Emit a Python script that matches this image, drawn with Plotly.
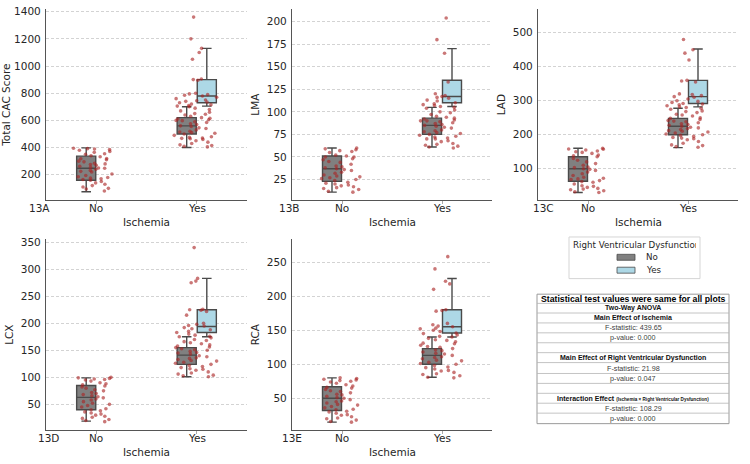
import plotly.graph_objects as go

W, H = 750, 464

categories = ["No", "Yes"]
x_title = "Ischemia"
panel_labels = ["13A", "13B", "13C", "13D", "13E"]
y_titles = ["Total CAC Score", "LMA", "LAD", "LCX", "RCA"]
y_ranges = [[12, 1420], [2, 214], [7, 570], [2, 356], [3, 284]]
y_ticks = [
    [200, 400, 600, 800, 1000, 1200, 1400],
    [25, 50, 75, 100, 125, 150, 175, 200],
    [100, 200, 300, 400, 500],
    [50, 100, 150, 200, 250, 300, 350],
    [50, 100, 150, 200, 250],
]

# box summary stats: [lowerfence, q1, median, q3, upperfence]
box_no_rv_no = [
    [75, 160, 248, 337, 398],
    [11, 23, 37, 51, 60],
    [30, 63, 100, 135, 160],
    [19, 40, 63, 85, 99],
    [15, 32, 50, 67, 80],
]
box_yes_rv_no = [
    [400, 500, 560, 620, 700],
    [61, 75, 85, 93, 105],
    [162, 200, 225, 248, 278],
    [101, 124, 141, 155, 175],
    [81, 100, 113, 123, 140],
]
box_yes_rv_yes = [
    [705, 730, 780, 900, 1130],
    [106, 110, 117, 135, 170],
    [282, 292, 312, 360, 452],
    [175, 183, 194, 225, 283],
    [140, 146, 155, 180, 226],
]

# jittered strip points
pts_no = [
    [395, 392, 390, 385, 380, 372, 365, 355, 350, 340, 332, 320, 318, 310, 300, 295, 285, 280,
     275, 270, 262, 255, 250, 248, 240, 232, 225, 220, 205, 195, 185, 180, 175, 170, 165, 160,
     150, 140, 130, 120, 110, 100, 95, 80],
    [60, 59, 58, 57, 56, 55, 52, 51, 50, 50, 48, 47, 45, 44, 42, 40, 39, 38, 37, 36, 35, 33,
     32, 30, 29, 28, 27, 26, 25, 24, 22, 21, 20, 19, 18, 17, 16, 15, 14, 12, 11],
    [160, 158, 157, 155, 152, 150, 148, 145, 140, 138, 135, 130, 125, 120, 115, 110, 105, 103,
     100, 98, 95, 90, 85, 80, 75, 72, 70, 68, 65, 62, 60, 55, 50, 48, 45, 42, 40, 38, 35, 32, 30],
    [100, 99, 98, 97, 96, 95, 93, 90, 88, 86, 84, 82, 80, 77, 75, 72, 70, 68, 66, 64, 62, 60,
     58, 55, 52, 50, 48, 45, 42, 40, 38, 36, 34, 32, 30, 28, 26, 24, 22, 20, 18],
    [80, 79, 78, 77, 76, 75, 74, 72, 70, 68, 66, 65, 63, 61, 60, 58, 56, 55, 53, 51, 50, 48,
     46, 45, 43, 41, 40, 38, 36, 34, 33, 31, 30, 28, 26, 25, 23, 21, 20, 18, 16, 15],
]
pts_yes = [
    [1360, 1200, 1130, 1100, 1050, 905, 900, 895, 800, 795, 790, 785, 780, 770, 760, 750, 745,
     740, 735, 730, 720, 715, 710, 705, 700, 690, 680, 670, 660, 650, 645, 640, 630, 620, 615,
     610, 605, 600, 598, 590, 585, 575, 570, 560, 555, 545, 540, 530, 520, 515, 510, 505, 500,
     490, 480, 475, 470, 468, 465, 460, 450, 440, 430, 420, 415, 410, 405],
    [204, 180, 165, 133, 120, 118, 117, 116, 115, 113, 112, 110, 109, 108, 107, 106, 105, 104,
     102, 100, 99, 97, 95, 94, 93, 92, 91, 90, 90, 89, 88, 87, 86, 85, 84, 83, 82, 80, 79, 78,
     77, 76, 75, 74, 73, 72, 71, 70, 70, 68, 67, 65, 64, 63, 62, 61, 60],
    [480, 450, 440, 420, 360, 358, 355, 320, 318, 315, 312, 310, 305, 300, 298, 295, 292, 290,
     288, 285, 282, 280, 278, 275, 270, 268, 265, 260, 258, 255, 250, 248, 245, 242, 240, 238,
     235, 232, 230, 228, 225, 222, 220, 218, 215, 212, 210, 208, 205, 202, 200, 198, 195, 192,
     190, 188, 185, 180, 175, 170, 168, 165, 163],
    [340, 283, 278, 275, 226, 225, 224, 222, 215, 200, 198, 196, 195, 192, 190, 188, 185, 183,
     180, 178, 176, 175, 173, 170, 168, 166, 164, 162, 160, 158, 156, 155, 153, 151, 150, 148,
     146, 145, 143, 140, 138, 136, 135, 133, 131, 130, 128, 126, 124, 122, 120, 118, 116, 115,
     113, 110, 108, 106, 104, 103, 101],
    [258, 240, 222, 218, 210, 180, 179, 178, 160, 158, 156, 155, 153, 152, 150, 148, 146, 145,
     143, 141, 140, 138, 136, 135, 133, 131, 130, 128, 126, 125, 123, 121, 120, 118, 116, 115,
     113, 111, 110, 108, 106, 105, 103, 101, 100, 98, 96, 95, 93, 91, 90, 88, 86, 85, 83, 81, 80],
]

legend_title = "Right Ventricular Dysfunction"
legend_items = ["No", "Yes"]

table_rows = [
    ("Statistical test values were same for all plots", "head"),
    ("Two-Way ANOVA", "bold"),
    ("Main Effect of Ischemia", "bold"),
    ("F-statistic: 439.65", "norm"),
    ("p-value: 0.000", "norm"),
    ("", "norm"),
    ("Main Effect of Right Ventricular Dysfunction", "bold"),
    ("F-statistic: 21.98", "norm"),
    ("p-value: 0.047", "norm"),
    ("", "norm"),
    ("Interaction Effect <span style='font-size:4.6px'>(Ischemia × Right Ventricular Dysfunction)</span>", "bold"),
    ("F-statistic: 108.29", "norm"),
    ("p-value: 0.000", "norm"),
]

# ---------------- styling ----------------
GRAY = "#808080"
BLUE = "#ADD8E6"
EDGE = "#4a4a4a"
PT = "rgba(170,36,36,0.62)"
TXT = "#262626"
FONT = "DejaVu Sans"
FS = 10.5

# panel pixel boxes: (left, right, top, bottom)
boxes_px = [
    (46, 247, 5, 198),
    (292, 492, 5, 198),
    (538, 738, 5, 198),
    (46, 247, 237, 430),
    (292, 492, 237, 430),
]
label_x_px = [39, 289, 543, 49, 292]

fig = go.Figure()
layout = dict(
    width=W, height=H, margin=dict(l=0, r=0, t=0, b=0),
    paper_bgcolor="white", plot_bgcolor="white", showlegend=False,
    font=dict(family=FONT, size=FS, color=TXT), boxmode="overlay",
)
annotations = []
shapes = []

for i in range(5):
    sfx = "" if i == 0 else str(i + 1)
    xa, ya = "x" + sfx, "y" + sfx
    l, r, t, b = boxes_px[i]
    layout["xaxis" + sfx] = dict(
        domain=[l / W, r / W], anchor=ya, range=[-0.5, 1.5],
        tickvals=[0, 1], showticklabels=False, showgrid=False, zeroline=False,
        showline=True, linecolor="#555555", linewidth=1.2,
        ticks="outside", ticklen=3, tickcolor="#aaaaaa",
    )
    layout["yaxis" + sfx] = dict(
        domain=[1 - b / H, 1 - t / H], anchor=xa, range=y_ranges[i],
        tickvals=y_ticks[i], showgrid=True, gridcolor="#d3d3d3", griddash="3px,2px",
        gridwidth=0.8, zeroline=False, showline=True, linecolor="#555555",
        linewidth=1.2, ticks="", ticklabelstandoff=2,
        tickfont=dict(size=FS, color=TXT),
        title=dict(text=y_titles[i], font=dict(size=FS, color=TXT), standoff=5),
    )
    # x tick labels and title as annotations (positioned like the reference)
    for k, c in enumerate(categories):
        annotations.append(dict(
            x=k, y=1 - (b + 8) / H, xref=xa, yref="paper", text=c, showarrow=False,
            xanchor="center", yanchor="middle", font=dict(size=FS, color=TXT, family=FONT),
        ))
    annotations.append(dict(
        x=0.5, y=1 - (b + 21.5) / H, xref=xa, yref="paper", text=x_title, showarrow=False,
        xanchor="center", yanchor="middle", font=dict(size=FS, color=TXT, family=FONT),
    ))
    annotations.append(dict(
        x=label_x_px[i] / W, y=1 - (b + 8) / H, xref="paper", yref="paper",
        text=panel_labels[i], showarrow=False, xanchor="center", yanchor="middle",
        font=dict(size=FS, color=TXT, family=FONT),
    ))
    # boxes
    for cat_idx, pos, stats, col in [
        (0, -0.1, box_no_rv_no[i], GRAY),
        (1, -0.1, box_yes_rv_no[i], GRAY),
        (1, 0.1, box_yes_rv_yes[i], BLUE),
    ]:
        lo, q1, med, q3, hi = stats
        fig.add_trace(go.Box(
            x=[cat_idx + pos], lowerfence=[lo], q1=[q1], median=[med], q3=[q3],
            upperfence=[hi], width=0.19, fillcolor=col,
            line=dict(color=EDGE, width=1.4), whiskerwidth=0.5,
            boxpoints=False, xaxis=xa, yaxis=ya, hoverinfo="skip",
        ))
    # strip points
    for cat_idx, vals in [(0, pts_no[i]), (1, pts_yes[i])]:
        fig.add_trace(go.Box(
            y=vals, x0=cat_idx, boxpoints="all", jitter=1, pointpos=0, width=0.46,
            fillcolor="rgba(0,0,0,0)", line=dict(width=0, color="rgba(0,0,0,0)"),
            marker=dict(color=PT, size=3.6), xaxis=xa, yaxis=ya, hoverinfo="skip",
        ))

# ---------------- legend (manual) ----------------
shapes.append(dict(type="rect", xref="paper", yref="paper",
                   x0=569 / W, x1=700 / W, y0=1 - 277 / H, y1=1 - 235 / H,
                   line=dict(color="#d5d5d5", width=1), fillcolor="white"))
annotations.append(dict(
    x=570.5 / W, y=1 - 243.5 / H, xref="paper", yref="paper", text=legend_title,
    showarrow=False, xanchor="left", yanchor="middle", align="left", width=123,
    font=dict(size=8.7, color=TXT, family=FONT),
))
for k, (name, col) in enumerate(zip(legend_items, [GRAY, BLUE])):
    yc = 255.5 + 13 * k
    shapes.append(dict(type="rect", xref="paper", yref="paper",
                       x0=617 / W, x1=635 / W, y0=1 - (yc + 3) / H, y1=1 - (yc - 3) / H,
                       line=dict(color=EDGE, width=0.8), fillcolor=col))
    annotations.append(dict(
        x=644 / W, y=1 - yc / H, xref="paper", yref="paper", text=name,
        showarrow=False, xanchor="left", yanchor="middle",
        font=dict(size=8.7, color=TXT, family=FONT),
    ))

# ---------------- table (manual) ----------------
row_edges = [292.7, 302, 311.7, 321.7, 331.7, 341.7, 351.7, 361.7, 372.7, 382.7,
             392.7, 402.7, 412.7, 423.3]
tl, tr = 537, 729
shapes.append(dict(type="rect", xref="paper", yref="paper",
                   x0=tl / W, x1=tr / W, y0=1 - row_edges[-1] / H, y1=1 - row_edges[0] / H,
                   line=dict(color="#9a9a9a", width=1), fillcolor="white"))
for e in row_edges[1:-1]:
    shapes.append(dict(type="line", xref="paper", yref="paper",
                       x0=tl / W, x1=tr / W, y0=1 - e / H, y1=1 - e / H,
                       line=dict(color="#b5b5b5", width=0.8)))
TFONT = "Liberation Sans, Arial, sans-serif"
for j, (txt, kind) in enumerate(table_rows):
    if not txt:
        continue
    yc = (row_edges[j] + row_edges[j + 1]) / 2
    if kind == "head":
        f = dict(size=8.7, color="#000000", family=TFONT)
        txt = "<b>" + txt + "</b>"
    elif kind == "bold":
        f = dict(size=7.0, color="#111111", family=TFONT)
        txt = "<b>" + txt + "</b>"
    else:
        f = dict(size=7.2, color="#404040", family=TFONT)
    annotations.append(dict(
        x=(tl + tr) / 2 / W, y=1 - yc / H, xref="paper", yref="paper", text=txt,
        showarrow=False, xanchor="center", yanchor="middle", font=f,
    ))

layout["annotations"] = annotations
layout["shapes"] = shapes
fig.update_layout(**layout)
fig.write_html("out.html")
